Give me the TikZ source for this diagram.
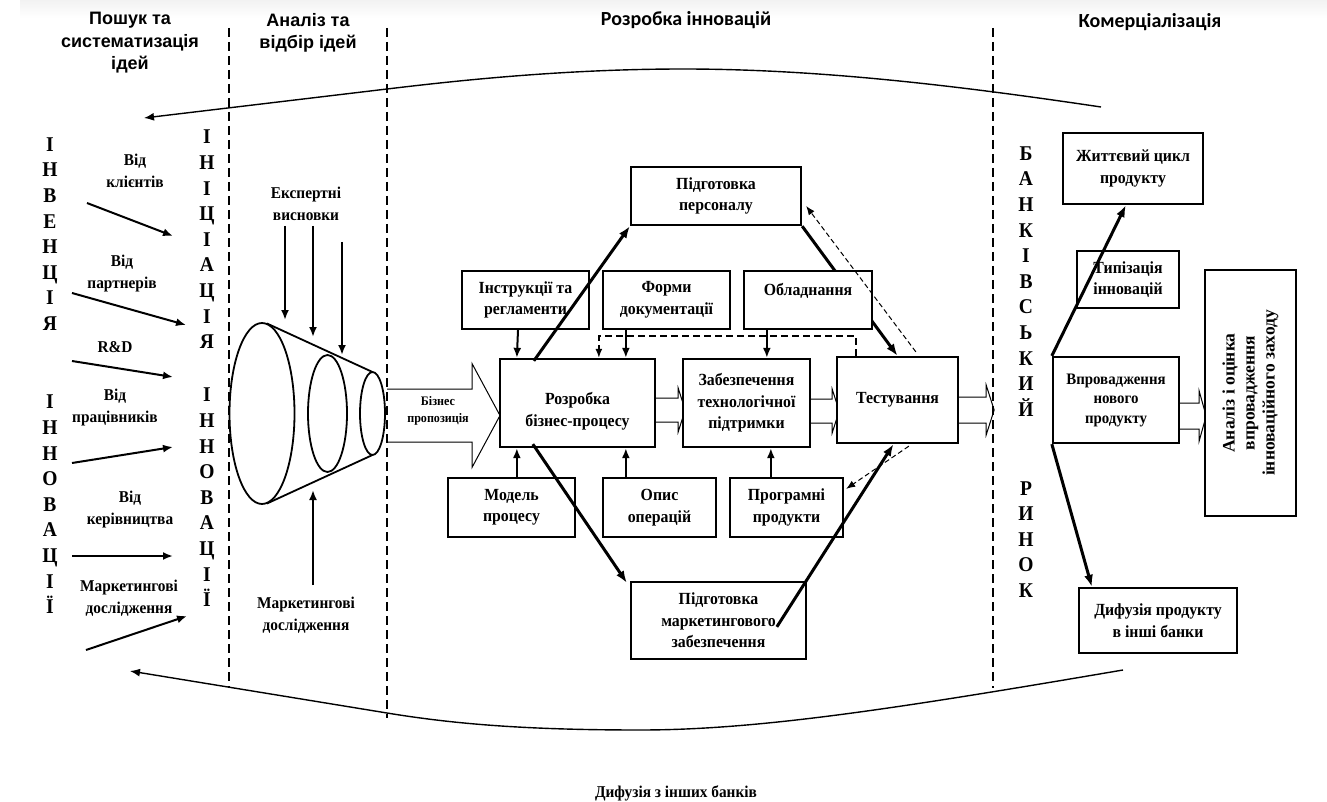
\documentclass[tikz,border=0pt]{standalone}
\usepackage{fontspec}
\setmainfont{Liberation Serif}[FakeStretch=0.93]
\newfontfamily\serifup{Liberation Serif}
\newfontfamily\hdrfont{Liberation Sans}
\newfontfamily\calfont{Carlito}
\usetikzlibrary{arrows.meta,calc}
\pgfdeclarelayer{bg}
\pgfsetlayers{bg,main}
\newcommand\hollowarrow[5]{%
  \draw[blk] ($(#1)+(0,-#3)$) -- ++(#2,0) -- ++(0,{#3-#4}) -- ++(#5,#4) -- ++(-#5,#4) -- ++(0,{#3-#4}) -- ++(-#2,0);}
\begin{document}
\begin{tikzpicture}[x=1pt,y=-1pt,
  bx/.style={draw, line width=2.3pt, fill=white, align=center, inner sep=1pt, font=\bfseries\fontsize{17}{21.5}\selectfont},
  txt/.style={align=center, inner sep=0pt, font=\bfseries\fontsize{17}{21.5}\selectfont},
  lbl/.style={align=center, inner sep=0pt, font=\bfseries\fontsize{16.5}{22}\selectfont},
  col/.style={align=center, inner sep=0pt, font=\bfseries\fontsize{21}{25.6}\selectfont},
  hd/.style={align=center, inner sep=0pt, font=\hdrfont\bfseries\fontsize{18}{22.5}\selectfont},
  hdc/.style={inner sep=0pt, font=\calfont\bfseries\fontsize{20}{24}\selectfont},
  arr/.style={line width=2pt, -{Latex[length=10pt,width=8pt]}},
  tarr/.style={line width=3pt, -{Latex[length=12pt,width=9pt]}},
  darr/.style={line width=1pt, dash pattern=on 5pt off 3pt, -{Latex[length=9pt,width=7pt]}},
  fbarr/.style={line width=1.5pt, dash pattern=on 7pt off 4pt, -{Latex[length=9pt,width=7pt]}},
  sep/.style={line width=1.7pt, dash pattern=on 9pt off 5pt},
  thinl/.style={line width=1.4pt},
  blk/.style={line width=1pt, fill=white},
]
\useasboundingbox (0,0) rectangle (1327,802);
\shade[top color=black!5, bottom color=white] (20,0) rectangle (1327,18);

% headers
\node[hd] (h1) at (130,43) {Пошук та\\систематизація\\ідей};
\node[hd] (h2) at (308,33) {Аналіз та\\відбір ідей};
\node[hdc] (h3) at (686,20) {Розробка інновацій};
\node[hdc] (h4) at (1150,22) {Комерціалізація};

% separators
\coordinate (s1a) at (229,28); \coordinate (s1b) at (229,688);
\coordinate (s2a) at (387,28); \coordinate (s2b) at (387,718);
\coordinate (s3a) at (993,28); \coordinate (s3b) at (993,688);
\draw[sep] (s1a) -- (s1b);
\draw[sep] (s2a) -- (s2b);
\draw[sep] (s3a) -- (s3b);

% big curves
\coordinate (tc1) at (1101,107); \coordinate (tc2) at (683,69);
\coordinate (tc3) at (387,89); \coordinate (tc4) at (144,118);
\draw[thinl, -{Latex[length=10pt,width=8pt]}] (tc1) .. controls (960,86) and (820,69) .. (tc2) .. controls (560,69) and (450,81.5) .. (tc3) -- (tc4);
\coordinate (bc1) at (1123,670); \coordinate (bc2) at (640,730);
\coordinate (bc3) at (387,713); \coordinate (bc4) at (130,671);
\draw[thinl, -{Latex[length=10pt,width=8pt]}] (bc1) .. controls (900,708) and (760,730) .. (bc2) .. controls (520,730) and (450,723.3) .. (bc3) -- (bc4);
\node[txt, font=\bfseries\fontsize{16.5}{20}\selectfont] (difz) at (676,793) {Дифузія з інших банків};

% letter columns
\node[col] (inv) at (50,234) {І\\Н\\В\\Е\\Н\\Ц\\І\\Я};
\node[col] (inn1) at (50,504.5) {І\\Н\\Н\\О\\В\\А\\Ц\\І\\Ї};
\node[col] (ini) at (207,239.5) {І\\Н\\І\\Ц\\І\\А\\Ц\\І\\Я};
\node[col] (inn2) at (207,497.5) {І\\Н\\Н\\О\\В\\А\\Ц\\І\\Ї};
\node[col] (bank) at (1026,281.5) {Б\\А\\Н\\К\\І\\В\\С\\Ь\\К\\И\\Й};
\node[col] (rynok) at (1026,539.5) {Р\\И\\Н\\О\\К};

% left labels and arrows
\node[lbl] (v1) at (135,171) {Від\\клієнтів};
\node[lbl] (v2) at (122,274) {Від\\партнерів};
\node[lbl] (rd) at (115,347) {R\&D};
\node[lbl] (v3) at (115,408) {Від\\працівників};
\node[lbl] (v4) at (130,510) {Від\\керівництва};
\node[lbl] (m1) at (129,598) {Маркетингові\\дослідження};
\coordinate (ls1) at (87,203);  \coordinate (le1) at (173,236);
\coordinate (ls2) at (72,293);  \coordinate (le2) at (186,325);
\coordinate (ls3) at (72,361);  \coordinate (le3) at (173,377);
\coordinate (ls4) at (72,463);  \coordinate (le4) at (173,447);
\coordinate (ls5) at (72,556);  \coordinate (le5) at (173,556);
\coordinate (ls6) at (86,650);  \coordinate (le6) at (187,616);
\draw[arr] (ls1) -- (le1);
\draw[arr] (ls2) -- (le2);
\draw[arr] (ls3) -- (le3);
\draw[arr] (ls4) -- (le4);
\draw[arr] (ls5) -- (le5);
\draw[arr] (ls6) -- (le6);

% funnel
\draw[line width=1.8pt] (262,413.5) ellipse [x radius=32.5pt, y radius=90.5pt];
\draw[line width=1.8pt] (327.5,413.5) ellipse [x radius=19.5pt, y radius=58.5pt];
\draw[line width=1.8pt] (372.5,413.5) ellipse [x radius=12.5pt, y radius=41.5pt];
\coordinate (ft1) at (267,323.5); \coordinate (ft2) at (372.5,372);
\coordinate (fb1) at (267,503.5); \coordinate (fb2) at (372.5,455);
\draw[line width=1.8pt] (ft1) -- (ft2);
\draw[line width=1.8pt] (fb1) -- (fb2);
\node[lbl] (eksp) at (306,204) {Експертні\\висновки};
\node[lbl] (m2) at (306,615) {Маркетингові\\дослідження};
\coordinate (fs1) at (285,226); \coordinate (fe1) at (285,320);
\coordinate (fs2) at (313,226); \coordinate (fe2) at (313,337);
\coordinate (fs3) at (342,242); \coordinate (fe3) at (342,355);
\coordinate (fs4) at (313,585); \coordinate (fe4) at (313,490);
\draw[arr] (fs1) -- (fe1);
\draw[arr] (fs2) -- (fe2);
\draw[arr] (fs3) -- (fe3);
\draw[arr] (fs4) -- (fe4);

% boxes
\node[bx, minimum width=170pt, minimum height=58pt] (pers) at (716,196) {Підготовка\\персоналу};
\node[bx, minimum width=127pt, minimum height=58pt] (instr) at (525.5,300) {Інструкції та\\регламенти};
\node[bx, minimum width=127pt, minimum height=58pt] (form) at (666.5,300) {Форми\\документації};
\node[bx, minimum width=128pt, minimum height=58pt] (obl) at (808,300) {};
\node[txt] (oblt) at (808,291) {Обладнання};
\node[bx, minimum width=155pt, minimum height=88pt] (rozr) at (577.5,403) {};
\node[txt] (rozrt) at (577.5,411) {Розробка\\бізнес-процесу};
\node[bx, minimum width=127pt, minimum height=88pt] (zab) at (746.5,403) {Забезпечення\\технологічної\\підтримки};
\node[bx, minimum width=121pt, minimum height=86pt] (test) at (897.5,400) {Тестування};
\node[bx, minimum width=127pt, minimum height=59pt] (model) at (511.5,507.5) {Модель\\процесу};
\node[bx, minimum width=113pt, minimum height=59pt] (opis) at (659.5,507.5) {Опис\\операцій};
\node[bx, minimum width=113pt, minimum height=59pt] (progr) at (786.5,507.5) {Програмні\\продукти};
\node[bx, minimum width=175pt, minimum height=77pt] (mark) at (718.5,620.5) {Підготовка\\маркетингового\\забезпечення};
\node[bx, minimum width=140pt, minimum height=71pt] (life) at (1133,168.5) {Життєвий цикл\\продукту};
\node[bx, minimum width=102pt, minimum height=57pt] (typ) at (1128,279.5) {Типізація\\інновацій};
\node[bx, minimum width=126pt, minimum height=86pt, font=\bfseries\fontsize{16}{19.5}\selectfont] (vpr) at (1116,400) {Впровадження\\нового\\продукту};
\node[bx, rotate=90, minimum width=246pt, minimum height=91pt, font=\serifup\bfseries\fontsize{17.5}{20}\selectfont] (anal) at (1250.5,393) {Аналіз і оцінка\\впровадження\\інноваційного заходу};
\node[bx, minimum width=158pt, minimum height=65pt] (dyf) at (1158,620.5) {Дифузія продукту\\в інші банки};

% background: hollow arrows and hidden line
\coordinate (bizs) at (387,415.5);
\coordinate (h1s) at ($(rozr.east)+(0,7)$);
\coordinate (h2s) at ($(zab.east)+(0,8)$);
\coordinate (h3s) at ($(test.east)+(0,10)$);
\coordinate (h4s) at ($(vpr.east)+(0,16)$);
\begin{pgfonlayer}{bg}
  \hollowarrow{bizs}{85}{26.5}{52}{28}
  \hollowarrow{h1s}{22}{12}{22}{7}
  \hollowarrow{h2s}{21}{12}{22}{7}
  \hollowarrow{h3s}{27}{13}{25}{8}
  \hollowarrow{h4s}{19}{13}{25}{7}
  \draw[tarr] (pers.south east) -- (test.north);
\end{pgfonlayer}
\node[txt, font=\bfseries\fontsize{13}{17}\selectfont] (biz) at (438,411) {Бізнес\\пропозиція};

% small arrows
\draw[arr] ($(instr.south)+(-7.5,0)$) -- ($(rozr.north west)+(18,0)$);
\draw[arr] ($(form.south west)+(24,0)$) -- ($(rozr.north west)+(127,0)$);
\draw[arr] ($(obl.south west)+(24,0)$) -- ($(zab.north west)+(85,0)$);
\draw[arr] ($(model.north west)+(70,0)$) -- ($(rozr.south west)+(18,0)$);
\draw[arr] ($(opis.north west)+(24,0)$) -- ($(rozr.south west)+(127,0)$);
\draw[arr] ($(progr.north west)+(42,0)$) -- ($(zab.south west)+(89,0)$);

% dashed arrows
\draw[fbarr] ($(test.north west)+(20,0)$) -- ++(0,-20) -| ($(rozr.north west)+(100,0)$);
\draw[darr] ($(test.north west)+(80,-4)$) -- ($(pers.east)+(4,10)$);
\draw[darr] ($(test.south west)+(73,2)$) -- ($(progr.north east)+(2,12)$);

% thick arrows
\coordinate (p1) at ($(rozr.north west)+(35,3)$);
\coordinate (p2) at ($(rozr.south west)+(34,-4)$);
\coordinate (p3) at ($(mark.north west)+(147,46)$);
\draw[tarr] (p1) -- (pers.south west);
\draw[tarr] (p2) -- ($(mark.north west)+(-3,2)$);
\draw[tarr] (p3) -- ($(test.south)+(-4,0)$);
\draw[tarr] (vpr.north west) -- ($(life.south west)+(64,0)$);
\draw[tarr] (vpr.south west) -- ($(dyf.north west)+(14,0)$);
\end{tikzpicture}
\end{document}
